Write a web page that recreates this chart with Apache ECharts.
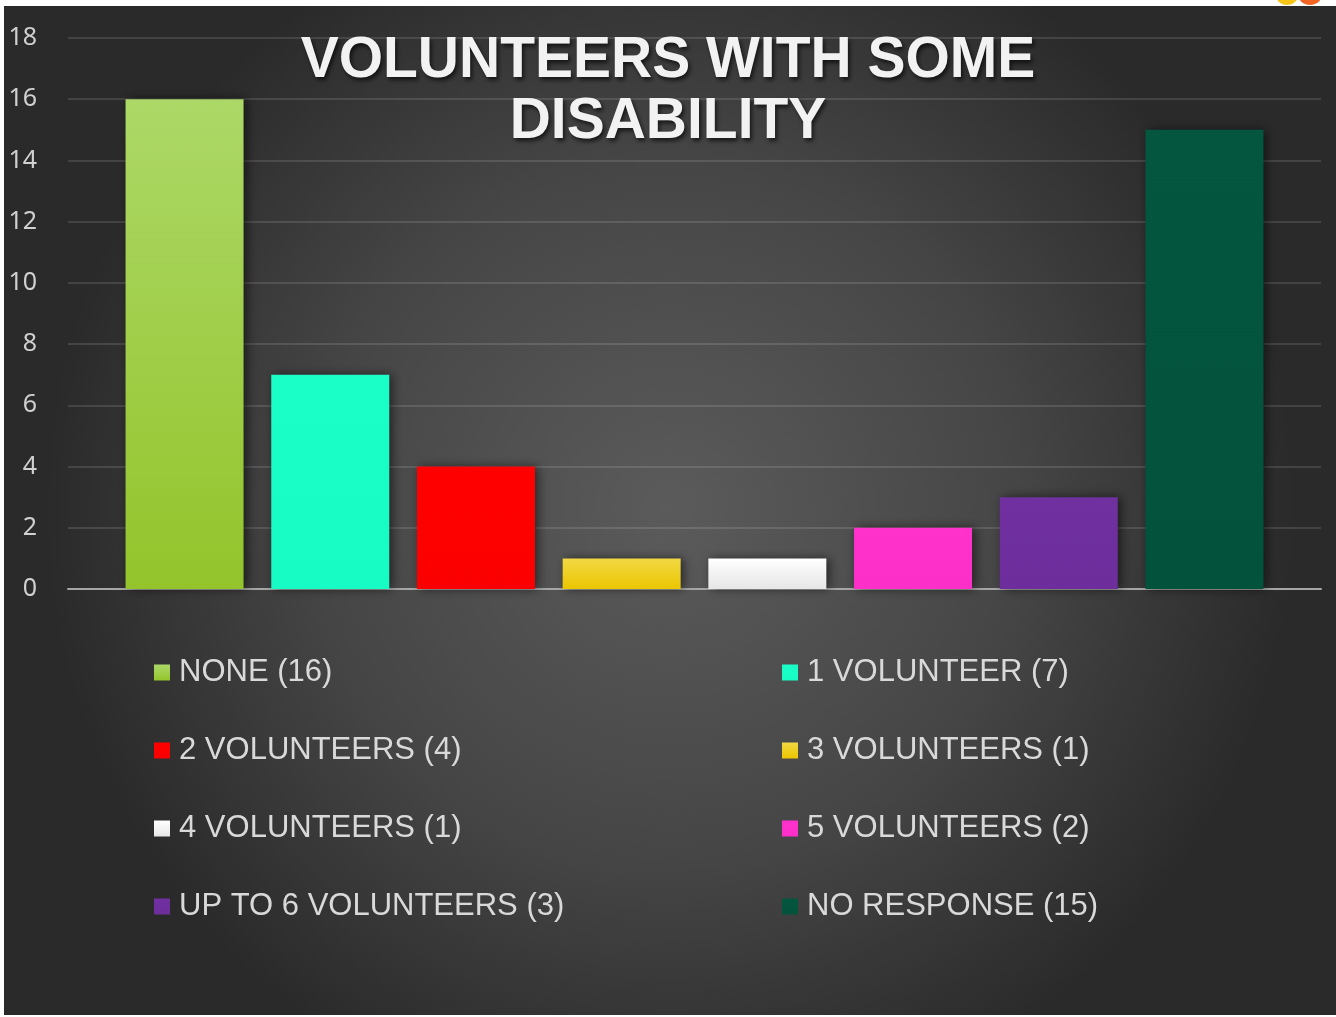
<!DOCTYPE html>
<html>
<head>
<meta charset="utf-8">
<title>Volunteers with some disability</title>
<script src="https://cdn.jsdelivr.net/npm/echarts@6/dist/echarts.min.js"></script>
<style>
    html, body { margin: 0; padding: 0; background: #fff; }
    #chart { width: 1336px; height: 1017px; }
</style>
</head>
<body>
<div id="chart"></div>
<script>
    // data
    var categories = ['NONE (16)', '1 VOLUNTEER (7)', '2 VOLUNTEERS (4)', '3 VOLUNTEERS (1)',
                      '4 VOLUNTEERS (1)', '5 VOLUNTEERS (2)', 'UP TO 6 VOLUNTEERS (3)', 'NO RESPONSE (15)'];
    var values = [16, 7, 4, 1, 1, 2, 3, 15];
    var yMin = 0, yMax = 18, yStep = 2;

    // colours: [top, bottom] of each bar
    var palette = [
        ['#acd867', '#94c42b'],
        ['#1affc8', '#17fcc4'],
        ['#ff0000', '#fb0000'],
        ['#f2d844', '#ebc600'],
        ['#ffffff', '#e6e6e6'],
        ['#ff33cc', '#fc30c8'],
        ['#7030a0', '#6d2e9c'],
        ['#04563f', '#03523c']
    ];

    var chart = echarts.init(document.getElementById('chart'));

    var series = categories.map(function (name, i) {
        return {
            name: name,
            type: 'bar',
            barWidth: 118,
            barGap: '-100%',
            data: [[i, values[i]]],
            itemStyle: {
                color: new echarts.graphic.LinearGradient(0, 0, 0, 1, [
                    { offset: 0, color: palette[i][0] },
                    { offset: 1, color: palette[i][1] }
                ]),
                shadowColor: 'rgba(0,0,0,0.55)',
                shadowBlur: 10,
                shadowOffsetX: 3,
                shadowOffsetY: 0
            }
        };
    });

    var legendText = {
        color: '#d9d9d9',
        fontSize: 31,
        lineHeight: 31,
        padding: [0, 0, 0, 4],
        fontFamily: '"Liberation Sans", Arial, sans-serif'
    };

    var option = {
        backgroundColor: '#ffffff',
        animation: false,
        graphic: [
            { type: 'circle', z: -101, shape: { cx: 1287, cy: -7, r: 12 }, style: { fill: '#f5c518' } },
            { type: 'circle', z: -101, shape: { cx: 1310, cy: -8, r: 13 }, style: { fill: '#f26522' } },
            {
                type: 'rect', z: -100,
                shape: { x: 4, y: 6, width: 1332, height: 1009 },
                style: {
                    fill: new echarts.graphic.RadialGradient(0.5, 0.5, 0.62, [
                        { offset: 0, color: '#5b5b5b' },
                        { offset: 0.55, color: '#464646' },
                        { offset: 1, color: '#2a2a2a' }
                    ])
                }
            }
        ],
        title: {
            text: 'VOLUNTEERS WITH SOME\nDISABILITY',
            left: 'center',
            top: 26,
            textStyle: {
                color: '#f2f2f2',
                fontSize: 57,
                lineHeight: 61,
                fontWeight: 'bold',
                fontFamily: '"Liberation Sans", Arial, sans-serif',
                textShadowColor: 'rgba(0,0,0,0.65)',
                textShadowBlur: 4,
                textShadowOffsetX: 2,
                textShadowOffsetY: 3
            }
        },
        legend: [
            {
                orient: 'vertical',
                left: 154,
                top: 657,
                padding: 0,
                itemWidth: 16,
                itemHeight: 16,
                itemGap: 47,
                icon: 'rect',
                selectedMode: false,
                textStyle: legendText,
                data: [categories[0], categories[2], categories[4], categories[6]]
            },
            {
                orient: 'vertical',
                left: 782,
                top: 657,
                padding: 0,
                itemWidth: 16,
                itemHeight: 16,
                itemGap: 47,
                icon: 'rect',
                selectedMode: false,
                textStyle: legendText,
                data: [categories[1], categories[3], categories[5], categories[7]]
            }
        ],
        grid: {
            left: 68,
            right: 15,
            top: 38,
            bottom: 428
        },
        xAxis: {
            type: 'value',
            min: -0.8,
            max: 7.8,
            axisLine: { show: true, onZero: true, lineStyle: { color: '#a6a6a6', width: 2 } },
            axisTick: { show: false },
            axisLabel: { show: false },
            splitLine: { show: false }
        },
        yAxis: {
            type: 'value',
            min: yMin,
            max: yMax,
            interval: yStep,
            axisLine: { show: false },
            axisTick: { show: false },
            axisLabel: {
                margin: 31,
                padding: [4, 0, 0, 0],
                color: '#d0d0d0',
                fontSize: 25,
                fontFamily: '"Noto Sans", "Open Sans", sans-serif'
            },
            splitLine: { lineStyle: { color: 'rgba(255,255,255,0.12)', width: 2 } }
        },
        series: series
    };

    chart.setOption(option);
</script>
</body>
</html>
